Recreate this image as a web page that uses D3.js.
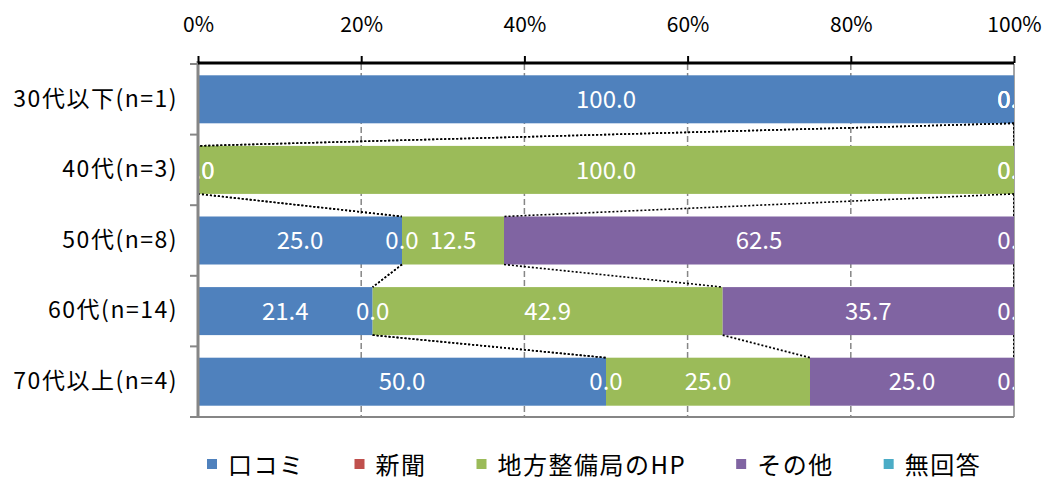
<!DOCTYPE html>
<html>
<head>
<meta charset="utf-8">
<script src="https://cdn.jsdelivr.net/npm/d3@7"></script>
<style>
  body { margin: 0; background: #fff; }
  text { font-family: "Noto Sans CJK JP", "Noto Sans", sans-serif; }
</style>
</head>
<body>
<script>
// categories and series
const ages = ["30代以下(n=1)", "40代(n=3)", "50代(n=8)", "60代(n=14)", "70代以上(n=4)"];
const seriesNames = ["口コミ", "新聞", "地方整備局のHP", "その他", "無回答"];
const colors = ["#4F81BD", "#C0504D", "#9BBB59", "#8064A2", "#4BACC6"];
const kuchikomi = [100.0, 0.0, 25.0, 21.4, 50.0];
const shinbun   = [0.0, 0.0, 0.0, 0.0, 0.0];
const hp        = [0.0, 100.0, 12.5, 42.9, 25.0];
const sonota    = [0.0, 0.0, 62.5, 35.7, 25.0];
const mukaitou  = [0.0, 0.0, 0.0, 0.0, 0.0];
const tickValues = [0, 20, 40, 60, 80, 100];

const width = 1044, height = 481;
const plotLeft = 198, plotRight = 1014, plotTop = 64, plotBottom = 417;

// stack table built from the arrays
const rows = ages.map((a, i) => ({
  age: a, s0: kuchikomi[i], s1: shinbun[i], s2: hp[i], s3: sonota[i], s4: mukaitou[i]
}));
const keys = ["s0", "s1", "s2", "s3", "s4"];
const stacked = d3.stack().keys(keys)(rows);

const x = d3.scaleLinear().domain([0, 100]).range([plotLeft, plotRight]);
const y = d3.scaleBand().domain(ages).range([plotTop, plotBottom]).paddingInner(0.32).paddingOuter(0.16);

let svg = d3.select("body").append("svg")
  .attr("width", width)
  .attr("height", height);

svg.append("defs").append("clipPath").attr("id", "plotclip")
  .append("rect")
  .attr("x", plotLeft).attr("y", plotTop)
  .attr("width", plotRight - plotLeft).attr("height", plotBottom - plotTop);

// dashed gridlines
svg.append("g")
  .selectAll("line")
  .data(tickValues.filter(t => t > 0 && t < 100))
  .join("line")
  .attr("x1", d => x(d)).attr("x2", d => x(d))
  .attr("y1", plotTop).attr("y2", plotBottom)
  .attr("stroke", "#868686")
  .attr("stroke-width", 1.5)
  .attr("stroke-dasharray", "6,3");

// right border
svg.append("line")
  .attr("x1", x(100)).attr("x2", x(100))
  .attr("y1", plotTop).attr("y2", plotBottom)
  .attr("stroke", "#868686").attr("stroke-width", 1.5);

// bars
let group_bars = svg.append("g");
stacked.forEach((layer, k) => {
  group_bars.append("g")
    .attr("fill", colors[k])
    .selectAll("rect")
    .data(layer)
    .join("rect")
    .attr("x", d => x(d[0]))
    .attr("y", d => y(d.data.age))
    .attr("width", d => x(d[1]) - x(d[0]))
    .attr("height", y.bandwidth());
});

// series lines (between consecutive bars)
let group_series = svg.append("g").attr("clip-path", "url(#plotclip)");
stacked.forEach((layer, k) => {
  for (let i = 0; i < layer.length - 1; i++) {
    group_series.append("line")
      .attr("x1", x(layer[i][1]))
      .attr("y1", y(ages[i]) + y.bandwidth())
      .attr("x2", x(layer[i + 1][1]))
      .attr("y2", y(ages[i + 1]))
      .attr("stroke", "#000")
      .attr("stroke-width", 1.6)
      .attr("stroke-dasharray", "2,2");
  }
});

// data labels
let group_labels = svg.append("g").attr("clip-path", "url(#plotclip)");
stacked.forEach((layer) => {
  group_labels.selectAll(null)
    .data(layer)
    .join("text")
    .attr("x", d => x((d[0] + d[1]) / 2))
    .attr("y", d => y(d.data.age) + y.bandwidth() / 2)
    .attr("dy", "0.36em")
    .attr("text-anchor", "middle")
    .attr("fill", "#fff")
    .attr("font-size", 24)
    .text(d => d3.format(".1f")(d[1] - d[0]));
});

// left axis
let yAxis = svg.append("g")
  .attr("transform", `translate(${plotLeft},0)`)
  .call(d3.axisLeft(y).tickSize(0).tickPadding(20));
yAxis.select(".domain").remove();
yAxis.selectAll("text")
  .attr("font-size", 23)
  .attr("letter-spacing", 1.5)
  .attr("fill", "#000")
  .attr("font-family", "Noto Sans CJK JP");
const bandTicks = ages.map(a => y(a) - y.step() * y.paddingInner() / 2).concat([plotBottom]);
svg.append("g").selectAll("line")
  .data(bandTicks)
  .join("line")
  .attr("x1", plotLeft - 8).attr("x2", plotLeft)
  .attr("y1", d => d).attr("y2", d => d)
  .attr("stroke", "#868686").attr("stroke-width", 2);
svg.append("line")
  .attr("x1", plotLeft).attr("x2", plotLeft)
  .attr("y1", plotTop - 3).attr("y2", plotBottom + 1)
  .attr("stroke", "#868686").attr("stroke-width", 3);
svg.append("line")
  .attr("x1", plotLeft).attr("x2", plotRight)
  .attr("y1", plotBottom).attr("y2", plotBottom)
  .attr("stroke", "#868686").attr("stroke-width", 2);

// top axis
let xAxis = svg.append("g")
  .attr("transform", `translate(0,${plotTop - 1})`)
  .call(d3.axisTop(x).tickValues(tickValues).tickFormat(d => d + "%").tickSize(7).tickPadding(24));
xAxis.select(".domain")
  .attr("stroke", "#000").attr("stroke-width", 3)
  .attr("d", `M${plotLeft},0H${plotRight}`);
xAxis.selectAll(".tick line").attr("stroke", "#000").attr("stroke-width", 2);
xAxis.selectAll("text")
  .attr("font-size", 21)
  .attr("fill", "#000");

// legend
let legend = svg.append("g").attr("transform", "translate(207,465)");
let lx = 0;
seriesNames.forEach((name, k) => {
  let item = legend.append("g").attr("transform", `translate(${lx},0)`);
  item.append("rect")
    .attr("x", 0).attr("y", -6)
    .attr("width", 10).attr("height", 10)
    .attr("fill", colors[k]);
  let t = item.append("text")
    .attr("x", 21).attr("y", 0)
    .attr("dy", "0.36em")
    .attr("font-size", 24)
    .attr("letter-spacing", 1.5)
    .attr("fill", "#000")
    .text(name);
  lx += 21 + t.node().getComputedTextLength() + 50;
});
</script>
</body>
</html>
